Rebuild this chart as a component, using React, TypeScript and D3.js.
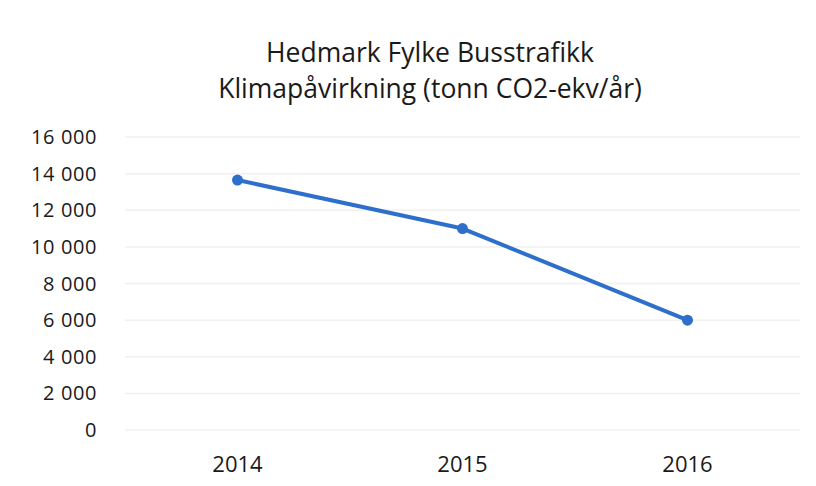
import React from "react";
import * as d3 from "d3";

const categories = ["2014", "2015", "2016"];
const values = [13650, 11000, 6000];
const yTicks = [0, 2000, 4000, 6000, 8000, 10000, 12000, 14000, 16000];
const titleLines = ["Hedmark Fylke Busstrafikk", "Klimapåvirkning (tonn CO2-ekv/år)"];

const W = 816;
const H = 486;
const left = 125;
const right = 800;
const top = 137;
const bottom = 430;
const font = "'Open Sans', 'Noto Sans', sans-serif";

export default function App() {
  const x = d3.scaleBand<string>().domain(categories).range([left, right]);
  const y = d3.scaleLinear().domain([0, 16000]).range([bottom, top]);
  const fmt = (v: number) => d3.format(",")(v).replace(/,/g, " ");
  const pts = categories.map((c, i) => [x(c)! + x.bandwidth() / 2, y(values[i])] as [number, number]);
  const line = d3.line()(pts) || "";
  return (
    <svg width={W} height={H} style={{ position: "absolute", left: 0, top: 0, background: "#fff" }}>
      <rect x={0} y={0} width={W} height={H} fill="#fff" />
      {titleLines.map((t, i) => (
        <text key={t} x={430} y={62 + i * 36} textAnchor="middle" fontFamily={font} fontSize={26.5} fill="#1a1a1a">
          {t}
        </text>
      ))}
      {yTicks.map((t) => (
        <g key={t}>
          <line x1={left} x2={right} y1={y(t)} y2={y(t)} stroke="#f0f0f0" strokeWidth={1.5} />
          <text x={97} y={y(t)} dy="0.35em" textAnchor="end" fontFamily={font} fontSize={20} letterSpacing={0.6} fill="#1a1a1a">
            {fmt(t)}
          </text>
        </g>
      ))}
      {categories.map((c) => (
        <text key={c} x={x(c)! + x.bandwidth() / 2} y={472} textAnchor="middle" fontFamily={font} fontSize={22} fill="#1a1a1a">
          {c}
        </text>
      ))}
      <path d={line} fill="none" stroke="#2e6fcc" strokeWidth={4} strokeLinejoin="round" />
      {pts.map((p, i) => (
        <circle key={i} cx={p[0]} cy={p[1]} r={5.5} fill="#2e6fcc" />
      ))}
    </svg>
  );
}
